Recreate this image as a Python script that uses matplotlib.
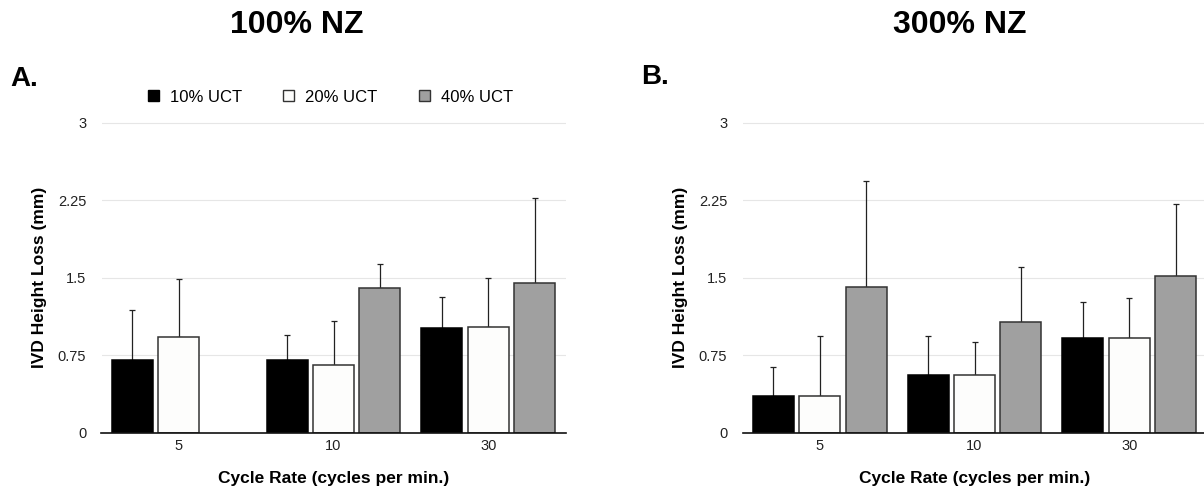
import numpy as np
import matplotlib.pyplot as plt
from matplotlib.patches import Patch

plt.rcParams['font.family'] = ['Liberation Sans', 'DejaVu Sans']

# ===== DATA =====
cycle_rates = ['5', '10', '30']
groups = ['10% UCT', '20% UCT', '40% UCT']

# 100% NZ: mean IVD height loss (mm) and SD, per cycle rate
nz100_mean = {
    '10% UCT': [0.70, 0.70, 1.01],
    '20% UCT': [0.92, 0.655, 1.02],
    '40% UCT': [np.nan, 1.40, 1.45],
}
nz100_sd = {
    '10% UCT': [0.49, 0.24, 0.30],
    '20% UCT': [0.57, 0.425, 0.48],
    '40% UCT': [np.nan, 0.23, 0.82],
}

# 300% NZ
nz300_mean = {
    '10% UCT': [0.35, 0.56, 0.91],
    '20% UCT': [0.35, 0.56, 0.91],
    '40% UCT': [1.41, 1.07, 1.515],
}
nz300_sd = {
    '10% UCT': [0.28, 0.375, 0.35],
    '20% UCT': [0.585, 0.315, 0.39],
    '40% UCT': [1.02, 0.53, 0.695],
}

y_ticks = [0, 0.75, 1.5, 2.25, 3]
y_ticklabels = ['0', '0.75', '1.5', '2.25', '3']

# ===== STYLE =====
fills = {'10% UCT': '#000000', '20% UCT': '#fdfdfc', '40% UCT': '#a0a0a0'}
edges = {'10% UCT': '#000000', '20% UCT': '#333333', '40% UCT': '#333333'}
offsets = [-0.30, 0.0, 0.30]
bar_w = 0.265

W, H = 1204, 491
fig = plt.figure(figsize=(W / 100, H / 100), dpi=100)

ax_h = 3.05 * 103.33 / H
bottom = (H - 432.5) / H
ax1 = fig.add_axes([101.5 / W, bottom, 464 / W, ax_h])
ax2 = fig.add_axes([742.5 / W, bottom, 464 / W, ax_h])


def draw_panel(ax, means, sds):
    x = np.arange(len(cycle_rates))
    for off, g in zip(offsets, groups):
        m = np.array(means[g], dtype=float)
        s = np.array(sds[g], dtype=float)
        ax.bar(x + off, m, width=bar_w, color=fills[g], edgecolor=edges[g],
               linewidth=1.1, zorder=3)
        ax.errorbar(x + off, m, yerr=[np.zeros_like(s), s], fmt='none',
                    ecolor='#222222', elinewidth=0.9, capsize=2.5,
                    capthick=0.9, zorder=2)

    ax.set_xlim(-0.5, 2.5)
    ax.set_ylim(0, 3.05)
    ax.set_xticks(x)
    ax.set_xticklabels(cycle_rates, fontsize=10.5, color='#222222')
    ax.set_yticks(y_ticks)
    ax.set_yticklabels(y_ticklabels, fontsize=10.5, color='#222222')
    ax.tick_params(axis='both', length=0)
    ax.tick_params(axis='y', pad=11)
    ax.tick_params(axis='x', pad=5)

    ax.yaxis.grid(True, color='#e6e6e6', linewidth=0.8, zorder=0)
    ax.set_axisbelow(True)
    for side in ['top', 'right', 'left']:
        ax.spines[side].set_visible(False)
    ax.spines['bottom'].set_color('#111111')
    ax.spines['bottom'].set_linewidth(1.2)
    ax.spines['bottom'].set_zorder(4)

    ax.set_xlabel('Cycle Rate (cycles per min.)', fontsize=12.5,
                  fontweight='bold', va='center')
    ax.xaxis.set_label_coords(0.5, (432.5 - 478) / (3.05 * 103.33))
    ax.set_ylabel('IVD Height Loss (mm)', fontsize=12.5,
                  fontweight='bold', va='center')
    ax.yaxis.set_label_coords(-61.5 / 464, (432.5 - 277.5) / (3.05 * 103.33))


draw_panel(ax1, nz100_mean, nz100_sd)
draw_panel(ax2, nz300_mean, nz300_sd)

# legend only over panel A
handles = [Patch(facecolor=fills[g], edgecolor=edges[g] if g != '10% UCT' else '#000000',
                 linewidth=1.0, label=g) for g in groups]
fig.legend(handles=handles, loc='center', ncol=3, frameon=False,
           bbox_to_anchor=(330.5 / W, 1 - 97 / H), bbox_transform=fig.transFigure,
           fontsize=12, handlelength=0.66, handleheight=0.66,
           handletextpad=0.66, columnspacing=2.5, borderpad=0)

# panel titles and letters
fig.text(297 / W, 1 - 25 / H, '100% NZ', ha='center', va='center',
         fontsize=23, fontweight='bold')
fig.text(959.5 / W, 1 - 25 / H, '300% NZ', ha='center', va='center',
         fontsize=23, fontweight='bold')
fig.text(10 / W, 1 - 79 / H, 'A.', ha='left', va='center',
         fontsize=20, fontweight='bold')
fig.text(641 / W, 1 - 77 / H, 'B.', ha='left', va='center',
         fontsize=20, fontweight='bold')

fig.savefig('out.png', dpi=100)
